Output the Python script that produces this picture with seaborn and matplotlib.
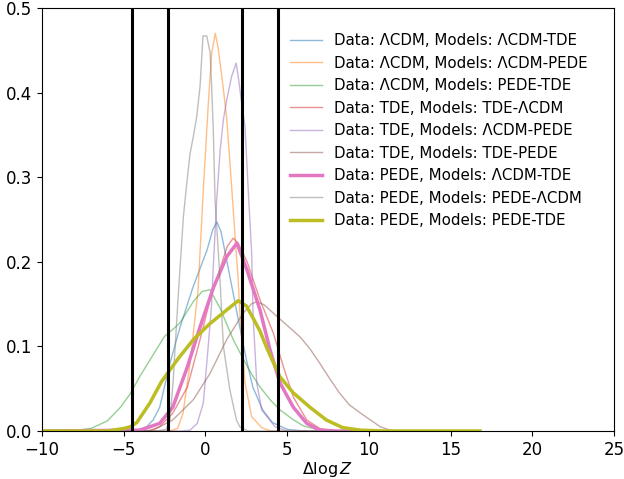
import numpy as np
import matplotlib
matplotlib.use("Agg")
import matplotlib.pyplot as plt
import seaborn as sns

# curves (x = Delta logZ, y = density)
lcdm_tde_x = [-10, -5, -4.2, -3.6, -3.2, -2.8, -2.17, -1.55, -0.76, 0.1, 0.45, 0.7, 0.95, 1.3, 2.1, 2.5, 2.9, 3.5, 4.1, 5, 6, 10]
lcdm_tde_y = [0, 0, 0.001, 0.005, 0.013, 0.028, 0.08, 0.123, 0.17, 0.214, 0.238, 0.247, 0.236, 0.202, 0.123, 0.085, 0.052, 0.025, 0.01, 0.002, 0, 0]

lcdm_pede_x = [-10, -2.2, -1.7, -1.37, -0.94, -0.45, -0.13, 0.18, 0.38, 0.6, 0.77, 1.08, 1.3, 1.6, 1.85, 2.0, 2.12, 2.42, 2.83, 3.44, 4, 10]
lcdm_pede_y = [0, 0, 0.003, 0.021, 0.08, 0.167, 0.285, 0.388, 0.446, 0.47, 0.454, 0.407, 0.37, 0.29, 0.22, 0.18, 0.135, 0.057, 0.017, 0.004, 0, 0]

lcdm_pedetde_x = [-10, -8, -7, -6, -5.2, -4.6, -4, -3.2, -2.5, -2.0, -1.55, -0.74, -0.2, 0.28, 0.9, 1.7, 2.24, 2.8, 3.34, 4.0, 4.56, 5.4, 6, 7, 8, 10]
lcdm_pedetde_y = [0, 0.0005, 0.003, 0.012, 0.028, 0.044, 0.065, 0.09, 0.112, 0.12, 0.128, 0.153, 0.165, 0.167, 0.145, 0.108, 0.088, 0.068, 0.052, 0.036, 0.025, 0.013, 0.006, 0.001, 0, 0]

tde_tdelcdm_x = [-10, -3.5, -2.8, -2, -1.1, -0.33, 0.28, 1.0, 1.33, 1.7, 2.0, 2.55, 3.34, 4.15, 4.77, 5.38, 6.2, 7.0, 8, 10]
tde_tdelcdm_y = [0, 0, 0.005, 0.021, 0.052, 0.108, 0.155, 0.198, 0.218, 0.228, 0.222, 0.2, 0.155, 0.116, 0.076, 0.040, 0.013, 0.003, 0, 0]

tde_lcdmpede_x = [-10, -1.5, -0.94, -0.5, -0.13, 0.17, 0.38, 0.48, 0.69, 0.9, 1.1, 1.3, 1.6, 1.88, 2.0, 2.2, 2.42, 2.63, 2.83, 2.92, 3.14, 3.44, 4.26, 5, 10]
tde_lcdmpede_y = [0, 0, 0.001, 0.009, 0.033, 0.1, 0.15, 0.194, 0.273, 0.332, 0.368, 0.391, 0.419, 0.435, 0.42, 0.39, 0.36, 0.281, 0.21, 0.135, 0.057, 0.025, 0.005, 0, 0]

tde_tdepede_x = [-10, -4, -3.2, -2, -0.74, 0.28, 1.3, 2.3, 2.8, 3.15, 3.6, 4.4, 5.4, 5.8, 6.4, 7, 7.6, 8.2, 8.8, 9.5, 10.7, 11.3, 12, 14]
tde_tdepede_y = [0, 0, 0.001, 0.013, 0.037, 0.068, 0.108, 0.139, 0.15, 0.153, 0.149, 0.135, 0.118, 0.111, 0.097, 0.08, 0.062, 0.045, 0.031, 0.021, 0.005, 0.001, 0, 0]

pede_lcdmtde_x = [-10, -4, -2.8, -2, -1.1, -0.33, 0.5, 1.3, 1.93, 2.55, 3.34, 3.95, 4.56, 5.38, 6.2, 7, 8, 10]
pede_lcdmtde_y = [0, 0.001, 0.009, 0.028, 0.076, 0.123, 0.17, 0.206, 0.222, 0.19, 0.143, 0.096, 0.057, 0.028, 0.009, 0.001, 0, 0]

pede_pedelcdm_x = [-10, -3, -2.4, -2.17, -1.97, -1.85, -1.67, -1.55, -1.35, -1.14, -0.94, -0.74, -0.53, -0.33, -0.15, 0.08, 0.29, 0.38, 0.48, 0.59, 0.78, 0.9, 1.1, 1.5, 1.9, 2.1, 2.6, 10]
pede_pedelcdm_y = [0, 0, 0.002, 0.013, 0.06, 0.1, 0.158, 0.194, 0.253, 0.293, 0.328, 0.348, 0.372, 0.407, 0.467, 0.467, 0.447, 0.407, 0.356, 0.273, 0.214, 0.175, 0.1, 0.048, 0.013, 0.005, 0, 0]

pede_pedetde_x = [-10, -6, -5, -4.6, -4.2, -3.4, -2.7, -1.73, -0.74, 0.28, 1.3, 2.0, 2.5, 2.9, 3.34, 3.76, 4.2, 4.56, 5.38, 6.4, 7.4, 8.4, 9.5, 11, 16.8]
pede_pedetde_y = [0, 0, 0.003, 0.005, 0.01, 0.033, 0.058, 0.084, 0.108, 0.127, 0.143, 0.154, 0.148, 0.134, 0.118, 0.098, 0.079, 0.064, 0.045, 0.028, 0.013, 0.004, 0.001, 0, 0]

labels = [
    "Data: \u039bCDM, Models: \u039bCDM-TDE",
    "Data: \u039bCDM, Models: \u039bCDM-PEDE",
    "Data: \u039bCDM, Models: PEDE-TDE",
    "Data: TDE, Models: TDE-\u039bCDM",
    "Data: TDE, Models: \u039bCDM-PEDE",
    "Data: TDE, Models: TDE-PEDE",
    "Data: PEDE, Models: \u039bCDM-TDE",
    "Data: PEDE, Models: PEDE-\u039bCDM",
    "Data: PEDE, Models: PEDE-TDE",
]
curves = [
    (lcdm_tde_x, lcdm_tde_y),
    (lcdm_pede_x, lcdm_pede_y),
    (lcdm_pedetde_x, lcdm_pedetde_y),
    (tde_tdelcdm_x, tde_tdelcdm_y),
    (tde_lcdmpede_x, tde_lcdmpede_y),
    (tde_tdepede_x, tde_tdepede_y),
    (pede_lcdmtde_x, pede_lcdmtde_y),
    (pede_pedelcdm_x, pede_pedelcdm_y),
    (pede_pedetde_x, pede_pedetde_y),
]
thick = [6, 8]  # the two highlighted curves

# vertical threshold lines
thresholds = [-4.5, -2.3, 2.25, 4.45]

colors = sns.color_palette("tab10")
fig = plt.figure(figsize=(6.24, 4.79), dpi=100)
ax = fig.add_axes([0.0673, 0.1002, 0.9167, 0.8831])

for i, ((x, y), lab) in enumerate(zip(curves, labels)):
    if i in thick:
        sns.lineplot(x=x, y=y, ax=ax, color=colors[i], lw=2.5, label=lab)
    else:
        sns.lineplot(x=x, y=y, ax=ax, color=colors[i], lw=1.0, alpha=0.5, label=lab)

for t in thresholds:
    ax.axvline(t, color="black", lw=2.2)

ax.set_xlim(-10, 25)
ax.set_ylim(0, 0.5)
ax.set_xticks(np.arange(-10, 26, 5))
ax.set_yticks(np.arange(0, 0.51, 0.1))
ax.tick_params(labelsize=12)
ax.set_xlabel(r"$\Delta \log Z$", fontsize=11.5, labelpad=1)
ax.set_ylabel("")
ax.legend(loc="upper right", bbox_to_anchor=(0.965, 0.955), borderaxespad=0,
          frameon=False, fontsize=10.8, labelspacing=0.5,
          handlelength=2.1, handletextpad=0.85)

fig.savefig("out.png", dpi=100)
